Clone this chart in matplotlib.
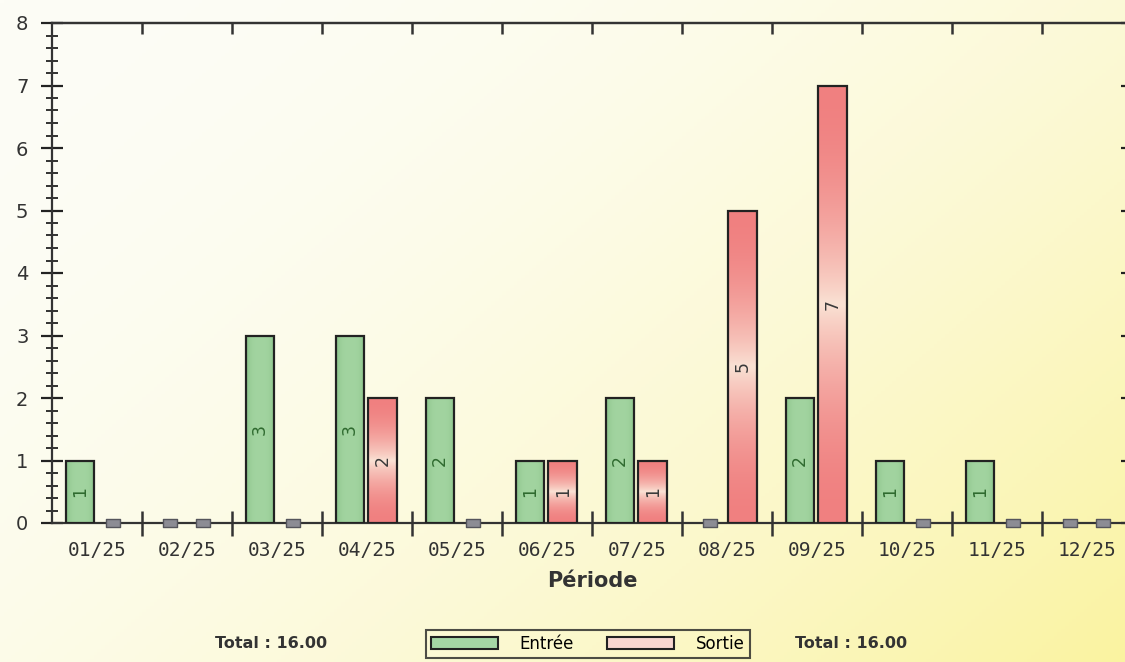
import numpy as np
import matplotlib
matplotlib.use("Agg")
import matplotlib.pyplot as plt
from matplotlib.patches import Rectangle
from matplotlib.path import Path
from matplotlib.ticker import MultipleLocator, FixedLocator

# data
periods = ["01/25", "02/25", "03/25", "04/25", "05/25", "06/25",
           "07/25", "08/25", "09/25", "10/25", "11/25", "12/25"]
entree = [1, 0, 3, 3, 2, 1, 2, 0, 2, 1, 1, 0]
sortie = [0, 0, 0, 2, 0, 1, 1, 5, 7, 0, 0, 0]
total_entree = "Total : 16.00"
total_sortie = "Total : 16.00"

fig = plt.figure(figsize=(11.25, 6.62), dpi=100)

# background gradient (cream -> yellow towards bottom right)
bg = fig.add_axes([0, 0, 1, 1], zorder=-10)
xx, yy = np.meshgrid(np.linspace(0, 1, 300), np.linspace(0, 1, 200))
t = np.clip((xx * 0.6 + yy * 0.4), 0, 1) ** 2.0
c0 = np.array([253, 253, 246]) / 255.0
c1 = np.array([250, 243, 160]) / 255.0
img = c0[None, None, :] * (1 - t[..., None]) + c1[None, None, :] * t[..., None]
bg.imshow(img, aspect="auto", extent=[0, 1, 0, 1], origin="upper")
bg.axis("off")

ax = fig.add_axes([52 / 1125, 139 / 662, 1080 / 1125, 500 / 662])
ax.patch.set_alpha(0)

x = np.arange(len(periods))
w = 0.32
off_e = -0.19
off_s = 0.175

gcol = np.array([140, 196, 140]) / 255.0
glight = np.array([162, 212, 160]) / 255.0
red = np.array([240, 128, 128]) / 255.0
light = np.array([250, 228, 214]) / 255.0


def draw_bar(xc, h, kind):
    x0 = xc - w / 2
    rect = Rectangle((x0, 0), w, h, facecolor="none", edgecolor="#222222",
                     linewidth=1.6, zorder=4)
    ax.add_patch(rect)
    if kind == "e":
        s = np.abs(np.linspace(-1, 1, 40))
        col = glight[None, :] * (1 - s[:, None] ** 3) + gcol[None, :] * (s[:, None] ** 3)
        im = ax.imshow(col[None, :, :], extent=[x0, x0 + w, 0, h], aspect="auto",
                       zorder=3, interpolation="bilinear")
        txtcol = "#2f6a2f"
    else:
        s = np.linspace(0, 1, 100)
        v = np.abs(np.cos(np.pi * s)) ** 0.8
        col = light[None, :] * (1 - v[:, None]) + red[None, :] * v[:, None]
        im = ax.imshow(col[:, None, :], extent=[x0, x0 + w, 0, h], aspect="auto",
                       zorder=3, interpolation="bilinear", origin="lower")
        txtcol = "#3a3a3a"
    im.set_clip_path(rect)
    ax.text(xc, h / 2, str(h), rotation=90, ha="center", va="center",
            fontsize=12.5, color=txtcol, zorder=5)


# small grey pill drawn for zero values
zero_marker = Path([(-1, -0.55), (1, -0.55), (1, 0.55), (-1, 0.55), (-1, -0.55)],
                   [Path.MOVETO, Path.LINETO, Path.LINETO, Path.LINETO, Path.CLOSEPOLY])
ze = [x[i] + off_e for i in range(len(periods)) if entree[i] == 0]
zs = [x[i] + off_s for i in range(len(periods)) if sortie[i] == 0]
ax.plot(ze + zs, [0] * (len(ze) + len(zs)), linestyle="none", marker=zero_marker,
        markersize=10, markerfacecolor="#8c8c94", markeredgecolor="#55555c",
        markeredgewidth=1.0, zorder=6, clip_on=False)

for i in range(len(periods)):
    if entree[i] > 0:
        draw_bar(x[i] + off_e, entree[i], "e")
    if sortie[i] > 0:
        draw_bar(x[i] + off_s, sortie[i], "s")

ax.set_xlim(-0.5, len(periods) - 0.5)
ax.set_ylim(0, 8)

# y axis
ax.yaxis.set_major_locator(MultipleLocator(1))
ax.yaxis.set_minor_locator(MultipleLocator(0.2))
ax.tick_params(axis="y", which="major", direction="inout", length=16, width=1.6,
               labelsize=14, pad=9, colors="#222222", right=True)
ax.tick_params(axis="y", which="minor", direction="inout", length=8, width=1.3,
               colors="#222222", right=True)
for lab in ax.get_yticklabels():
    lab.set_color("#333333")

# x axis: ticks at category boundaries, labels at centers
bounds = np.arange(0.5, len(periods) - 0.5, 1)
ax.xaxis.set_major_locator(FixedLocator(bounds))
ax.xaxis.set_minor_locator(FixedLocator(x))
ax.set_xticklabels([])
ax.set_xticklabels(periods, minor=True, fontfamily="DejaVu Sans Mono", fontsize=14,
                   color="#333333")
ax.tick_params(axis="x", which="major", direction="inout", length=18, width=1.8,
               colors="#333333")
ax.tick_params(axis="x", which="minor", length=0, pad=13)

top = ax.secondary_xaxis("top")
top.set_xticks(bounds)
top.set_xticklabels([])
top.tick_params(direction="in", length=8, width=1.8, colors="#333333")
top.spines["top"].set_color("#333333")
top.spines["top"].set_linewidth(1.6)

for sp in ax.spines.values():
    sp.set_color("#333333")
    sp.set_linewidth(1.6)

ax.set_xlabel("Période", fontsize=15, fontweight="bold", color="#333333", labelpad=8)

# bottom line: totals and legend
fig.text(271 / 1125, 19 / 662, total_entree, ha="center", va="center",
         fontsize=11.5, fontweight="bold", family="DejaVu Sans", color="#333333")
fig.text(851 / 1125, 19 / 662, total_sortie, ha="center", va="center",
         fontsize=11.5, fontweight="bold", family="DejaVu Sans", color="#333333")

leg_e = Rectangle((0, 0), 1, 1, facecolor="#a5d6a5", edgecolor="#222222", linewidth=1.5)
leg_s = Rectangle((0, 0), 1, 1, facecolor="#f8d6d0", edgecolor="#222222", linewidth=1.5)
leg = fig.legend([leg_e, leg_s], ["Entrée", "Sortie"], loc="center",
                 bbox_to_anchor=(588 / 1125, 18 / 662), ncol=2, fontsize=12,
                 frameon=True, fancybox=False, handlelength=4.0, handleheight=0.7,
                 handletextpad=1.3, columnspacing=2.0, borderpad=0.3,
                 edgecolor="#222222")
leg.get_frame().set_linewidth(1.5)
leg.get_frame().set_facecolor("none")

fig.savefig("out.png", dpi=100)
